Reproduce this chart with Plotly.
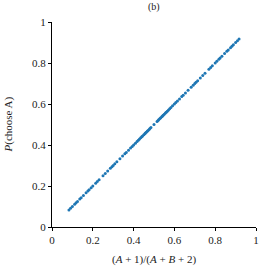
import plotly.graph_objects as go

x_vals = [0.083, 0.091, 0.100, 0.111, 0.118, 0.125, 0.136, 0.143, 0.154, 0.167,
          0.176, 0.182, 0.192, 0.200, 0.214, 0.222, 0.231, 0.250, 0.261, 0.273,
          0.286, 0.294, 0.300, 0.308, 0.318, 0.333, 0.346, 0.357, 0.364, 0.375,
          0.385, 0.393, 0.400, 0.409, 0.417, 0.423, 0.429, 0.435, 0.440, 0.444,
          0.450, 0.455, 0.458, 0.462, 0.467, 0.471, 0.476, 0.480, 0.485, 0.500,
          0.515, 0.520, 0.524, 0.529, 0.533, 0.538, 0.542, 0.545, 0.550, 0.556,
          0.560, 0.565, 0.571, 0.577, 0.583, 0.591, 0.600, 0.607, 0.615, 0.625,
          0.636, 0.643, 0.654, 0.667, 0.682, 0.692, 0.700, 0.706, 0.714, 0.727,
          0.739, 0.750, 0.769, 0.778, 0.786, 0.800, 0.808, 0.818, 0.824, 0.833,
          0.846, 0.857, 0.864, 0.875, 0.882, 0.889, 0.900, 0.909, 0.917]
y_vals = [0.083, 0.091, 0.100, 0.111, 0.118, 0.125, 0.136, 0.143, 0.154, 0.167,
          0.176, 0.182, 0.192, 0.200, 0.214, 0.222, 0.231, 0.250, 0.261, 0.273,
          0.286, 0.294, 0.300, 0.308, 0.318, 0.333, 0.346, 0.357, 0.364, 0.375,
          0.385, 0.393, 0.400, 0.409, 0.417, 0.423, 0.429, 0.435, 0.440, 0.444,
          0.450, 0.455, 0.458, 0.462, 0.467, 0.471, 0.476, 0.480, 0.485, 0.500,
          0.515, 0.520, 0.524, 0.529, 0.533, 0.538, 0.542, 0.545, 0.550, 0.556,
          0.560, 0.565, 0.571, 0.577, 0.583, 0.591, 0.600, 0.607, 0.615, 0.625,
          0.636, 0.643, 0.654, 0.667, 0.682, 0.692, 0.700, 0.706, 0.714, 0.727,
          0.739, 0.750, 0.769, 0.778, 0.786, 0.800, 0.808, 0.818, 0.824, 0.833,
          0.846, 0.857, 0.864, 0.875, 0.882, 0.889, 0.900, 0.909, 0.917]
tick_vals = [0, 0.2, 0.4, 0.6, 0.8, 1]
tick_text = ["0", "0.2", "0.4", "0.6", "0.8", "1"]

FONT = "Liberation Serif"

fig = go.Figure(go.Scatter(
    x=x_vals, y=y_vals, mode="markers",
    marker=dict(size=3, color="#1f77b4"),
    showlegend=False,
))

axis_common = dict(
    range=[0, 1], tickvals=tick_vals, ticktext=tick_text,
    showline=True, linecolor="black", linewidth=1,
    ticks="outside", ticklen=3, tickwidth=1, tickcolor="black",
    showgrid=False, zeroline=False, mirror=False, automargin=False,
    tickfont=dict(family=FONT, size=11, color="#222"),
)

fig.update_layout(
    width=259, height=267,
    margin=dict(l=52, r=3, t=22, b=40),
    paper_bgcolor="white", plot_bgcolor="white",
    font=dict(family=FONT, size=11, color="#222"),
    xaxis=dict(**axis_common),
    yaxis=dict(**axis_common),
    annotations=[
        dict(text="(b)", x=0.5, y=1, xref="paper", yref="paper",
             yanchor="middle", yshift=15, showarrow=False,
             font=dict(family=FONT, size=10, color="#222")),
        dict(text="(<i>A</i> + 1)/(<i>A</i> + <i>B</i> + 2)", x=0.5, y=0,
             xref="paper", yref="paper", yanchor="middle", yshift=-32,
             showarrow=False, font=dict(family=FONT, size=11, color="#222")),
        dict(text="<i>P</i>(choose A)", x=0, y=0.5, xref="paper", yref="paper",
             xanchor="center", xshift=-44, textangle=-90, showarrow=False,
             font=dict(family=FONT, size=11, color="#222")),
    ],
)

fig.write_html("out.html", config={"displayModeBar": False},
               post_script="document.body.style.margin='0';document.body.style.overflow='hidden';")
